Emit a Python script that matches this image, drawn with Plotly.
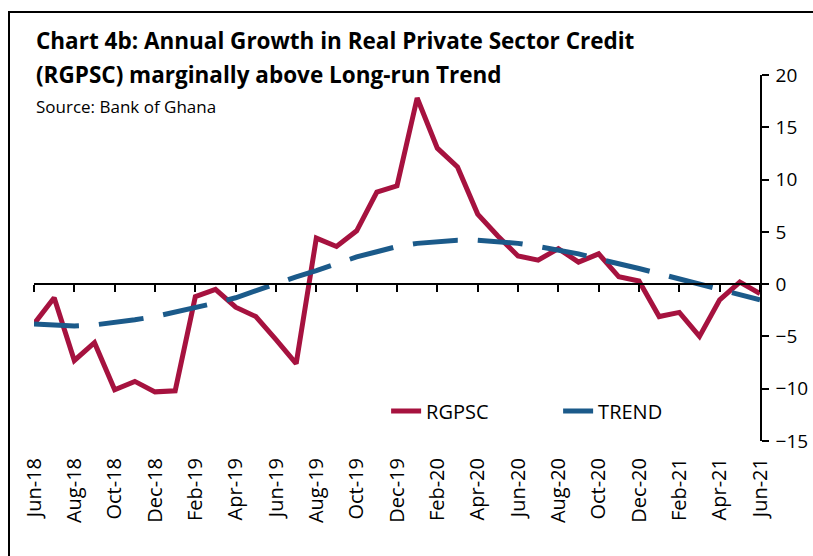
import plotly.graph_objects as go

months = ["Jun-18", "Jul-18", "Aug-18", "Sep-18", "Oct-18", "Nov-18", "Dec-18", "Jan-19",
          "Feb-19", "Mar-19", "Apr-19", "May-19", "Jun-19", "Jul-19", "Aug-19", "Sep-19",
          "Oct-19", "Nov-19", "Dec-19", "Jan-20", "Feb-20", "Mar-20", "Apr-20", "May-20",
          "Jun-20", "Jul-20", "Aug-20", "Sep-20", "Oct-20", "Nov-20", "Dec-20", "Jan-21",
          "Feb-21", "Mar-21", "Apr-21", "May-21", "Jun-21"]

rgpsc = [-3.8, -1.3, -7.3, -5.6, -10.1, -9.3, -10.3, -10.2,
         -1.2, -0.5, -2.2, -3.1, -5.3, -7.6, 4.4, 3.6,
         5.1, 8.8, 9.4, 17.8, 13.0, 11.2, 6.7, 4.6,
         2.7, 2.3, 3.4, 2.1, 2.9, 0.7, 0.3, -3.1,
         -2.7, -5.0, -1.5, 0.2, -0.9]

trend = [-3.8, -3.9, -4.0, -3.9, -3.7, -3.4, -3.1, -2.7,
         -2.3, -1.8, -1.3, -0.6, 0.0, 0.7, 1.3, 2.0,
         2.6, 3.1, 3.6, 3.9, 4.1, 4.2, 4.2, 4.1,
         3.9, 3.6, 3.3, 2.9, 2.4, 2.0, 1.5, 1.0,
         0.5, 0.0, -0.4, -1.0, -1.5]

y_ticks = [-15, -10, -5, 0, 5, 10, 15, 20]

idx = list(range(len(months)))
tick_idx = idx[::2]
tick_lbl = months[::2]

FONT = "Open Sans"
RED = "#A6123F"
BLUE = "#1B5A8A"

fig = go.Figure()
fig.add_trace(go.Scatter(x=idx, y=rgpsc, name="RGPSC", mode="lines",
                         line=dict(color=RED, width=5)))
fig.add_trace(go.Scatter(x=idx, y=trend, name="TREND", mode="lines",
                         line=dict(color=BLUE, width=5, dash="45px,20px")))
# helper trace so the zero-line axis (x2) is drawn
fig.add_trace(go.Scatter(x=[None], y=[None], xaxis="x2", yaxis="y",
                         showlegend=False, hoverinfo="skip"))

fig.update_layout(
    width=813, height=556,
    margin=dict(l=34, r=53, t=75, b=115, autoexpand=False),
    paper_bgcolor="white", plot_bgcolor="white",
    font=dict(family=FONT, color="black"),
    showlegend=True,
    legend=dict(orientation="h", x=0.485, y=0.082, xanchor="left", yanchor="middle",
                font=dict(size=20, family=FONT), bgcolor="rgba(0,0,0,0)",
                entrywidth=127, entrywidthmode="pixels", tracegroupgap=0),
    xaxis=dict(range=[0, 36], tickmode="array", tickvals=tick_idx, ticktext=tick_lbl,
               tickangle=-90, showline=False, showgrid=False, zeroline=False,
               ticks="", ticklabelstandoff=12, automargin=False,
               tickfont=dict(size=20, family=FONT, color="black")),
    xaxis2=dict(range=[0, 36], overlaying="x", anchor="free", position=15 / 35,
                tickmode="array", tickvals=tick_idx, showticklabels=False,
                showline=True, linecolor="black", linewidth=1.5,
                ticks="outside", ticklen=7, tickwidth=1.5, tickcolor="black",
                showgrid=False, zeroline=False, automargin=False),
    yaxis=dict(range=[-15, 20], side="right", tickmode="array", tickvals=y_ticks,
               showline=True, linecolor="black", linewidth=1.5,
               ticks="outside", ticklen=7, tickwidth=1.5, tickcolor="black",
               showgrid=False, zeroline=False, ticklabelstandoff=3, automargin=False,
               tickfont=dict(size=19, family=FONT, color="black")),
)

fig.add_annotation(text="<b>Chart 4b: Annual Growth in Real Private Sector Credit</b>",
                   xref="paper", yref="paper", x=0, y=(441 - 41) / 366,
                   xanchor="left", yanchor="middle", showarrow=False,
                   font=dict(size=22.5, family=FONT, color="black"))
fig.add_annotation(text="<b>(RGPSC) marginally above Long-run Trend</b>",
                   xref="paper", yref="paper", x=0, y=(441 - 74) / 366,
                   xanchor="left", yanchor="middle", showarrow=False,
                   font=dict(size=22.5, family=FONT, color="black"))
fig.add_annotation(text="Source: Bank of Ghana",
                   xref="paper", yref="paper", x=0, y=(441 - 106) / 366,
                   xanchor="left", yanchor="middle", showarrow=False,
                   font=dict(size=17, family=FONT, color="black"))

fig.add_shape(type="rect", xref="paper", yref="paper",
              x0=(9 - 34) / 726, x1=1.5, y0=-1, y1=(441 - 12) / 366,
              line=dict(color="black", width=2), fillcolor="rgba(0,0,0,0)", layer="below")

fig.write_html("out.html")
